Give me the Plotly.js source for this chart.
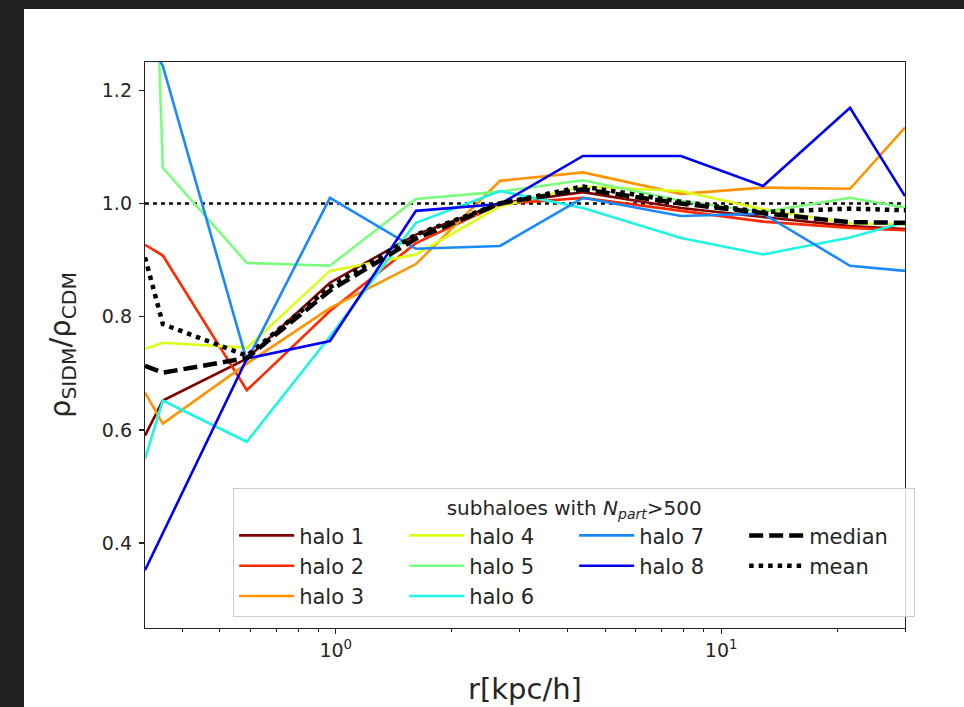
<!DOCTYPE html>
<html><head><meta charset="utf-8">
<script src="https://cdn.plot.ly/plotly-3.0.1.min.js"></script>
<style>
html,body{margin:0;padding:0;background:#222222;width:964px;height:707px;overflow:hidden}
#chart{position:absolute;left:24px;top:9px;width:940px;height:698px;background:#ffffff}
</style></head><body><div id="chart"></div>
<script>
// radial bins [kpc/h]
const r = [0.32, 0.356, 0.588, 0.966, 1.615, 2.668, 4.38, 7.87, 12.85, 21.6, 30.0];

// rho_SIDM / rho_CDM for each subhalo
const halo1 = [0.590, 0.652, 0.726, 0.860, 0.945, 1.000, 1.020, 0.992, 0.976, 0.960, 0.955];
const halo2 = [0.927, 0.908, 0.670, 0.810, 0.930, 0.999, 1.010, 0.987, 0.968, 0.957, 0.953];
const halo3 = [0.666, 0.611, 0.717, 0.815, 0.893, 1.040, 1.055, 1.017, 1.028, 1.026, 1.134];
const halo4 = [0.743, 0.754, 0.745, 0.881, 0.910, 0.995, 1.030, 1.022, 0.990, 0.965, 0.963];
const halo5 = [2.000, 1.063, 0.895, 0.890, 1.008, 1.021, 1.041, 1.005, 0.985, 1.010, 0.993];
const halo6 = [0.549, 0.652, 0.579, 0.765, 0.966, 1.022, 0.992, 0.939, 0.910, 0.940, 0.967];
const halo7 = [1.300, 1.243, 0.722, 1.010, 0.920, 0.925, 1.010, 0.978, 0.982, 0.890, 0.881];
const halo8 = [0.352, 0.417, 0.726, 0.757, 0.987, 0.999, 1.084, 1.084, 1.031, 1.169, 1.013];
const median = [0.713, 0.701, 0.727, 0.846, 0.938, 1.000, 1.025, 1.000, 0.983, 0.967, 0.966];
const mean   = [0.905, 0.787, 0.731, 0.852, 0.945, 1.000, 1.030, 1.003, 0.985, 0.991, 0.988];

const haloNames = ['halo 1','halo 2','halo 3','halo 4','halo 5','halo 6','halo 7','halo 8'];
const haloData = [halo1, halo2, halo3, halo4, halo5, halo6, halo7, halo8];
const haloColors = ['#800000','#ff2a00','#ff9400','#dcff1a','#7aff7d','#1ef5e2','#1a88ff','#0000f5'];
// legend order (matplotlib ncol=4 fills column-wise)
const haloRank = [1, 5, 9, 2, 6, 10, 3, 7];

const refLevel = [1.0];
const xTickVals = [1, 10];
const xTickText = ['10<sup>0</sup>', '10<sup>1</sup>'];
const xMinorVals = [0.4,0.5,0.6,0.7,0.8,0.9,2,3,4,5,6,7,8,9,20,30];
const yTickVals = [0.4, 0.6, 0.8, 1.0, 1.2];
const yTickText = ['0.4', '0.6', '0.8', '1.0', '1.2'];

const traces = [];
haloData.forEach((d, i) => {
  traces.push({
    x: r, y: d, type: 'scatter', mode: 'lines', name: haloNames[i],
    line: {color: haloColors[i], width: 2.6}, legendrank: haloRank[i]
  });
});
traces.push({
  x: r, y: median, type: 'scatter', mode: 'lines', name: 'median',
  line: {color: '#000000', width: 4.5, dash: '14px,6px'}, legendrank: 4
});
traces.push({
  x: r, y: mean, type: 'scatter', mode: 'lines', name: 'mean',
  line: {color: '#000000', width: 4.5, dash: '4.5px,5px'}, legendrank: 8
});

const axisLine = '#222222';
const layout = {
  width: 940, height: 698,
  margin: {l: 121, r: 59, t: 53, b: 79},
  paper_bgcolor: '#ffffff', plot_bgcolor: '#ffffff',
  font: {family: 'DejaVu Sans', size: 19, color: '#262626'},
  showlegend: true,
  xaxis: {
    type: 'log', range: [Math.log10(0.32), Math.log10(30)],
    tickmode: 'array', tickvals: xTickVals, ticktext: xTickText,
    ticks: 'outside', ticklen: 5, tickwidth: 1.2, tickcolor: axisLine,
    showline: true, mirror: true, linecolor: axisLine, linewidth: 1.2,
    showgrid: false, zeroline: false, tickfont: {size: 19},
    minor: {tickmode: 'array', tickvals: xMinorVals, ticks: 'outside', ticklen: 3, tickwidth: 1, tickcolor: axisLine, showgrid: false},
    title: {text: 'r[kpc/h]', font: {size: 29, color: '#262626'}, standoff: 18}
  },
  yaxis: {
    range: [0.25, 1.25],
    tickmode: 'array', tickvals: yTickVals, ticktext: yTickText,
    ticks: 'outside', ticklen: 5, tickwidth: 1.2, tickcolor: axisLine,
    showline: true, mirror: true, linecolor: axisLine, linewidth: 1.2,
    showgrid: false, zeroline: false, tickfont: {size: 19}, ticklabelstandoff: 3,
    title: {text: 'ρ<sub>SIDM</sub>/ρ<sub>CDM</sub>', font: {size: 29, color: '#262626'}, standoff: 22}
  },
  legend: {
    orientation: 'h', x: 0.116, xanchor: 'left', y: 0.019, yanchor: 'bottom',
    bgcolor: 'rgba(255,255,255,0.8)', bordercolor: '#cccccc', borderwidth: 1,
    font: {size: 21, color: '#262626'},
    entrywidth: 100, entrywidthmode: 'pixels', itemwidth: 55,
    title: {text: 'subhaloes with <i>N</i><sub><i>part</i></sub>&gt;500', side: 'top center', font: {size: 20, color: '#262626'}}
  },
  shapes: [{
    type: 'line', xref: 'paper', x0: 0, x1: 1, yref: 'y', y0: refLevel[0], y1: refLevel[0],
    line: {color: '#000000', width: 2.5, dash: '4px,4px'}, layer: 'below'
  }]
};

Plotly.newPlot('chart', traces, layout, {displayModeBar: false, staticPlot: true});
</script></body></html>
